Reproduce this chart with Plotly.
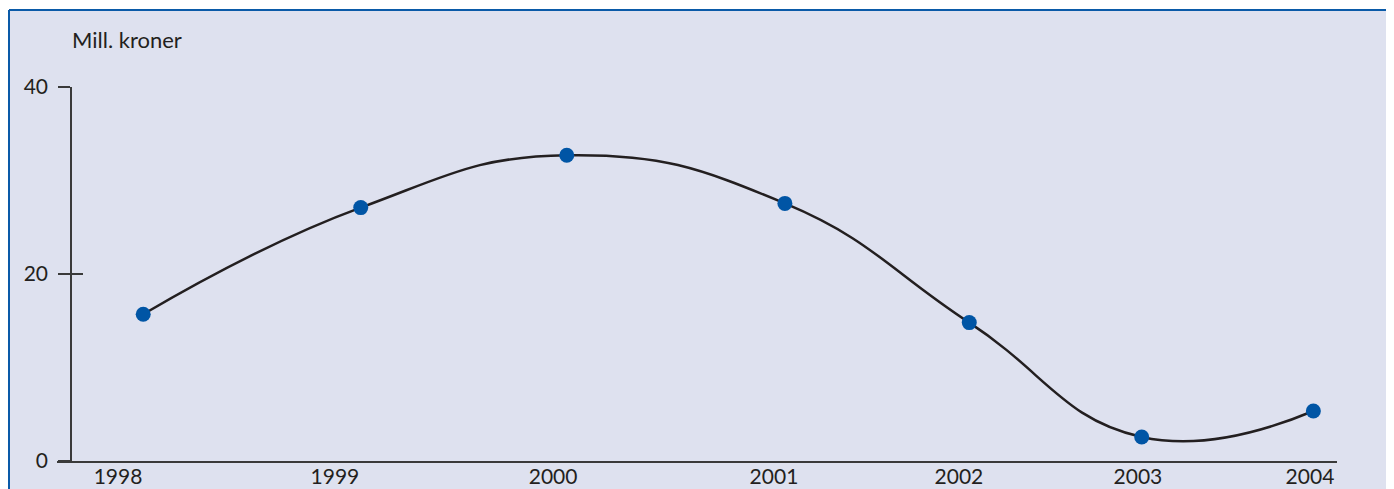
import plotly.graph_objects as go

# Data (x in fractional years along the time axis)
years_x = [1998.127, 1999.222, 2000.259, 2001.357, 2002.285, 2003.153, 2004.017]
values = [15.7, 27.1, 32.7, 27.55, 14.8, 2.57, 5.35]

# Tick labels and where they appear on the time axis
tick_positions = [1998.0, 1999.092, 2000.19, 2001.302, 2002.233, 2003.134, 2004.0]
tick_labels = ["1998", "1999", "2000", "2001", "2002", "2003", "2004"]
y_ticks = [0, 20, 40]
y_title = "Mill. kroner"

OFF = 8  # page body margin
W, H = 1394 - OFF, 489 - OFF
ML, MT = 57 - OFF, 87 - OFF
MR = W - (1337 - OFF)
MB = H - (461 - OFF)
PW = W - ML - MR
PH = H - MT - MB

def px_x(p):
    return (p - OFF - ML) / PW

def px_y(p):
    return (H - MB - (p - OFF)) / PH

BG = "#dee1ef"
INK = "#231f20"
AX = "#3a3a3a"
BLUE = "#0055a5"
FONT = "Lato"

fig = go.Figure()
fig.add_trace(go.Scatter(
    x=years_x, y=values, mode="lines+markers",
    line=dict(color=INK, width=2.5, shape="spline", smoothing=1.3),
    marker=dict(color=BLUE, size=15),
    showlegend=False, hoverinfo="skip",
))
# dummy trace for the overlay axis with inside ticks
fig.add_trace(go.Scatter(x=[years_x[0]], y=[0], yaxis="y2", mode="none",
                         showlegend=False, hoverinfo="skip"))

ypos = px_x(71)
fig.update_layout(
    width=W, height=H, autosize=False,
    margin=dict(l=ML, r=MR, t=MT, b=MB, pad=0, autoexpand=False),
    paper_bgcolor="white",
    plot_bgcolor="rgba(0,0,0,0)",
    font=dict(family=FONT, size=21, color=INK),
    xaxis=dict(
        range=[1997.693, 2004.136], showgrid=False, zeroline=False,
        showline=True, linecolor=AX, linewidth=1.5, automargin=False,
        tickmode="array", tickvals=tick_positions, ticktext=tick_labels,
        ticks="", ticklabelstandoff=-4,
    ),
    yaxis=dict(
        range=[0, 40], anchor="free", position=ypos, automargin=False,
        showgrid=False, zeroline=False,
        showline=True, linecolor=AX, linewidth=1.5,
        tickmode="array", tickvals=y_ticks,
        ticks="outside", ticklen=12, tickwidth=1.5, tickcolor=AX,
        ticklabelstandoff=6,
    ),
    yaxis2=dict(
        range=[0, 40], anchor="free", position=ypos, overlaying="y",
        automargin=False, showgrid=False, zeroline=False, showline=False,
        tickmode="array", tickvals=y_ticks, showticklabels=False,
        ticks="inside", ticklen=11, tickwidth=1.5, tickcolor=AX,
    ),
    shapes=[
        dict(type="rect", xref="paper", yref="paper", layer="below",
             x0=px_x(9), x1=px_x(1420), y0=px_y(520), y1=px_y(10),
             fillcolor=BG, line=dict(width=0)),
        dict(type="line", xref="paper", yref="paper", layer="below",
             x0=px_x(9), x1=px_x(1420), y0=px_y(10), y1=px_y(10),
             line=dict(color="#0a5aa8", width=2)),
        dict(type="line", xref="paper", yref="paper", layer="below",
             x0=px_x(9), x1=px_x(9), y0=px_y(10), y1=px_y(520),
             line=dict(color="#0a5aa8", width=2)),
    ],
    annotations=[
        dict(text=y_title, xref="paper", yref="paper",
             x=px_x(70), y=px_y(40), xanchor="left", yanchor="middle",
             showarrow=False, font=dict(family=FONT, size=22, color=INK)),
    ],
)

fig.write_html("out.html")
